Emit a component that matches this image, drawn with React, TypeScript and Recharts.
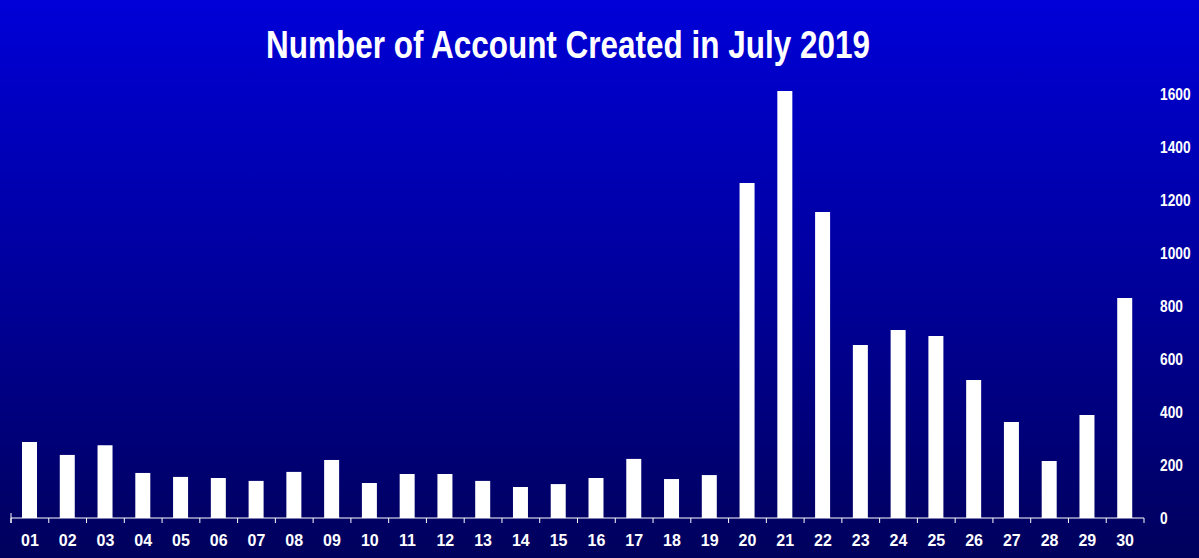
import React from "react";
import { Bar, BarChart, XAxis, YAxis } from "recharts";

const days = [
  "01", "02", "03", "04", "05", "06", "07", "08", "09", "10",
  "11", "12", "13", "14", "15", "16", "17", "18", "19", "20",
  "21", "22", "23", "24", "25", "26", "27", "28", "29", "30",
];
const accounts = [
  287, 238, 275, 170, 155, 151, 140, 174, 219, 132,
  166, 166, 140, 117, 128, 151, 223, 147, 162, 1264,
  1611, 1155, 653, 709, 687, 521, 362, 215, 389, 830,
];
const yTicks = [0, 200, 400, 600, 800, 1000, 1200, 1400, 1600];

const W = 1199;
const H = 558;
const LEFT = 11;
const Y_AXIS_W = 55;
const HALF_BAND = (W - LEFT - Y_AXIS_W) / days.length / 2;
const FONT = "'Liberation Sans', Arial, sans-serif";

const data = days.map((d, i) => ({ day: d, count: accounts[i] }));

function DayTick(props: any) {
  const { x, y, payload, index } = props;
  const last = index === days.length - 1;
  return (
    <g>
      <line x1={x - HALF_BAND} y1={y - 8} x2={x - HALF_BAND} y2={y - 3} stroke="#fff" strokeWidth={1} />
      {index === 0 && (
        <line x1={x - HALF_BAND} y1={y - 13} x2={x - HALF_BAND} y2={y - 3} stroke="#fff" strokeWidth={1} />
      )}
      {last && (
        <line x1={x + HALF_BAND} y1={y - 8} x2={x + HALF_BAND} y2={y - 3} stroke="#fff" strokeWidth={1} />
      )}
      <text x={x} y={y + 20} textAnchor="middle" fill="#fff" fontFamily={FONT} fontWeight={700} fontSize={16}>
        {payload.value}
      </text>
    </g>
  );
}

function CountTick(props: any) {
  const { x, y, payload } = props;
  return (
    <text
      transform={`translate(${x},${y + 6}) scale(0.86,1)`}
      textAnchor="start"
      fill="#fff"
      fontFamily={FONT}
      fontWeight={700}
      fontSize={16}
    >
      {payload.value}
    </text>
  );
}

export default function App() {
  return (
    <div
      style={{
        position: "absolute",
        left: 0,
        top: 0,
        width: W,
        height: H,
        background: "linear-gradient(to bottom, #0000d8 0%, #00009c 50%, #00005c 100%)",
        overflow: "hidden",
      }}
    >
      <svg width={W} height={80} style={{ position: "absolute", left: 0, top: 0 }}>
        <text
          x={266}
          y={58}
          textLength={604}
          lengthAdjust="spacingAndGlyphs"
          fill="#fff"
          fontFamily={FONT}
          fontWeight={700}
          fontSize={39}
        >
          Number of Account Created in July 2019
        </text>
      </svg>
      <div style={{ position: "absolute", left: 0, top: 0 }}>
        <BarChart
          width={W}
          height={H}
          data={data}
          margin={{ top: 67.5, right: 0, bottom: 0, left: LEFT }}
          barCategoryGap={0}
        >
          <XAxis
            dataKey="day"
            height={40}
            axisLine={{ stroke: "#ffffff", strokeWidth: 1.2 }}
            tickLine={false}
            tick={<DayTick />}
            interval={0}
          />
          <YAxis
            orientation="right"
            width={Y_AXIS_W}
            domain={[0, 1700]}
            ticks={yTicks}
            axisLine={false}
            tickLine={false}
            tickSize={6}
            tickMargin={10}
            tick={<CountTick />}
          />
          <Bar dataKey="count" fill="#ffffff" barSize={15} isAnimationActive={false} />
        </BarChart>
      </div>
    </div>
  );
}
